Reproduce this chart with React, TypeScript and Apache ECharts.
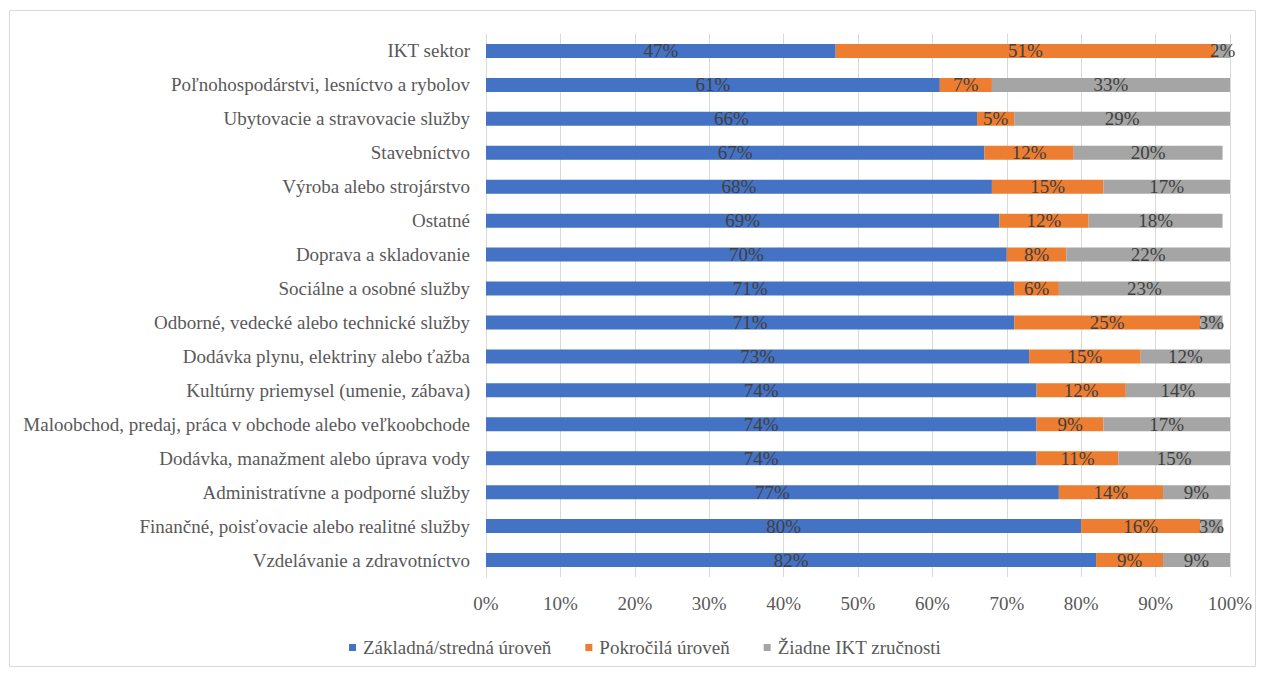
import React, { useEffect, useRef } from "react";
import * as echarts from "echarts";

const categories = [
  "IKT sektor",
  "Poľnohospodárstvi, lesníctvo a rybolov",
  "Ubytovacie a stravovacie služby",
  "Stavebníctvo",
  "Výroba alebo strojárstvo",
  "Ostatné",
  "Doprava a skladovanie",
  "Sociálne a osobné služby",
  "Odborné, vedecké alebo technické služby",
  "Dodávka plynu, elektriny alebo ťažba",
  "Kultúrny priemysel (umenie, zábava)",
  "Maloobchod, predaj, práca v obchode alebo veľkoobchode",
  "Dodávka, manažment alebo úprava vody",
  "Administratívne a podporné služby",
  "Finančné, poisťovacie alebo realitné služby",
  "Vzdelávanie a zdravotníctvo",
];

const basic = [47, 61, 66, 67, 68, 69, 70, 71, 71, 73, 74, 74, 74, 77, 80, 82];
const advanced = [51, 7, 5, 12, 15, 12, 8, 6, 25, 15, 12, 9, 11, 14, 16, 9];
const none = [2, 33, 29, 20, 17, 18, 22, 23, 3, 12, 14, 17, 15, 9, 3, 9];

const seriesNames = ["Základná/stredná úroveň", "Pokročilá úroveň", "Žiadne IKT zručnosti"];
const seriesColors = ["#4472C4", "#ED7D31", "#A5A5A5"];

const FONT = "Liberation Serif";
const FS = 19;

export default function App() {
  const ref = useRef<HTMLDivElement>(null);

  useEffect(() => {
    if (!ref.current) return;
    const chart = echarts.init(ref.current, null, { renderer: "svg" });
    const values = [basic, advanced, none];
    chart.setOption({
      animation: false,
      backgroundColor: "#ffffff",
      textStyle: { fontFamily: FONT },
      graphic: [
        {
          type: "rect",
          shape: { x: 9.5, y: 10.5, width: 1246, height: 656 },
          style: { fill: "none", stroke: "#d9d9d9", lineWidth: 1 },
          silent: true,
        },
      ],
      grid: {
        left: 486,
        right: 33,
        top: 34,
        bottom: 96,
        containLabel: false,
        outerBoundsMode: "none",
      },
      legend: {
        top: 633,
        left: 344,
        icon: "rect",
        itemWidth: 7,
        itemHeight: 7,
        itemGap: 34,
        textStyle: { fontFamily: FONT, fontSize: FS, color: "#595959", padding: [0, 0, 0, 2] },
        data: seriesNames,
      },
      xAxis: {
        type: "value",
        min: 0,
        max: 100,
        interval: 10,
        axisLine: { show: false },
        axisTick: { show: false },
        splitLine: { show: true, lineStyle: { color: "#d9d9d9", width: 1 } },
        axisLabel: {
          formatter: "{value}%",
          fontFamily: FONT,
          fontSize: FS,
          color: "#595959",
          margin: 17,
        },
      },
      yAxis: {
        type: "category",
        inverse: true,
        data: categories,
        axisLine: { show: true, lineStyle: { color: "#d9d9d9" } },
        axisTick: { show: false },
        axisLabel: {
          fontFamily: FONT,
          fontSize: FS,
          color: "#595959",
          margin: 16,
        },
      },
      series: seriesNames.map((name, i) => ({
        name,
        type: "bar",
        stack: "total",
        barWidth: 14,
        clip: true,
        itemStyle: { color: seriesColors[i] },
        label: {
          show: true,
          position: "inside",
          formatter: "{c}%",
          fontFamily: FONT,
          fontSize: FS,
          color: "#404040",
        },
        data: values[i],
      })),
    });
    return () => chart.dispose();
  }, []);

  return (
    <div
      ref={ref}
      style={{ position: "absolute", left: 0, top: 0, width: 1263, height: 673 }}
    />
  );
}
